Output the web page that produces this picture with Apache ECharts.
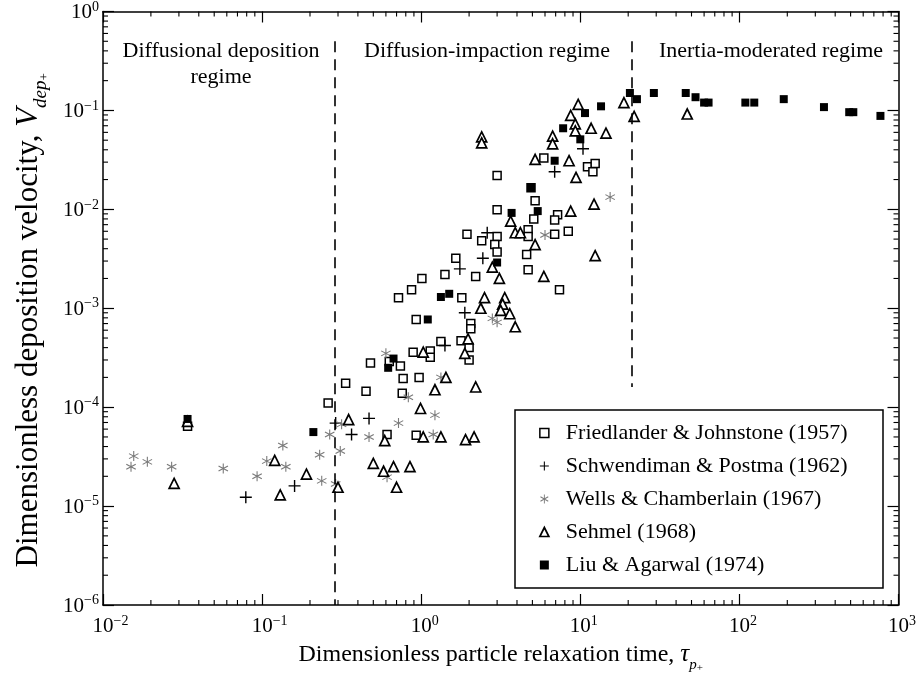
<!DOCTYPE html>
<html><head><meta charset="utf-8">
<script src="https://cdn.jsdelivr.net/npm/echarts@6/dist/echarts.min.js"></script>
<style>html,body{margin:0;padding:0;background:#fff}#chart{width:919px;height:681px}</style>
</head><body><div id="chart"></div>
<script>
// ---- data (x = tau_p+, y = V_dep+) ----
const friedlander = [[0.034,6.4e-5],[0.26,1.1e-4],[0.335,1.75e-4],[0.45,1.45e-4],[0.48,2.8e-4],[0.63,2.9e-4],[0.74,2.6e-4],[0.77,1.95e-4],[0.97,2.0e-4],[0.89,3.6e-4],[1.14,3.7e-4],[1.14,3.2e-4],[1.33,4.6e-4],[1.78,4.7e-4],[2.0,4.0e-4],[2.0,3.0e-4],[2.05,7.0e-4],[2.05,6.2e-4],[0.93,7.7e-4],[0.72,1.28e-3],[0.87,1.54e-3],[1.01,2.0e-3],[1.41,2.2e-3],[1.65,3.2e-3],[2.2,2.1e-3],[1.8,1.28e-3],[1.94,5.6e-3],[2.4,4.8e-3],[3.0,5.3e-3],[2.9,4.4e-3],[3.0,3.7e-3],[3.0,0.022],[4.9,0.0165],[5.2,0.0122],[3.0,9.9e-3],[5.1,8.0e-3],[7.2,8.8e-3],[6.9,7.8e-3],[4.7,6.2e-3],[4.7,5.3e-3],[6.9,5.6e-3],[8.4,6.0e-3],[4.6,3.5e-3],[4.7,2.45e-3],[7.4,1.54e-3],[5.9,0.033],[11.1,0.027],[12.4,0.029],[12,0.024],[0.61,5.3e-5],[0.93,5.2e-5],[0.76,1.38e-4]];
const schwendiman = [[0.079,1.23e-5],[0.16,1.6e-5],[0.29,6.9e-5],[0.47,7.7e-5],[0.365,5.3e-5],[1.41,4.2e-4],[1.88,9.0e-4],[1.75,2.5e-3],[2.44,3.2e-3],[2.6,5.8e-3],[6.9,0.024],[10.4,0.041]];
const wells = [[0.0156,3.2e-5],[0.015,2.5e-5],[0.019,2.8e-5],[0.027,2.5e-5],[0.057,2.4e-5],[0.093,2.0e-5],[0.107,2.85e-5],[0.135,4.1e-5],[0.141,2.5e-5],[0.23,3.3e-5],[0.266,5.3e-5],[0.237,1.8e-5],[0.29,1.67e-5],[0.316,6.7e-5],[0.31,3.6e-5],[0.47,5.0e-5],[0.72,6.9e-5],[0.61,1.96e-5],[1.19,5.3e-5],[1.22,8.3e-5],[0.83,1.26e-4],[1.33,2.0e-4],[0.60,3.5e-4],[2.8,7.9e-4],[3.0,7.2e-4],[6.0,5.5e-3],[15.4,0.0133]];
const sehmel = [[0.028,1.7e-5],[0.034,7.2e-5],[0.12,2.9e-5],[0.13,1.3e-5],[0.19,2.1e-5],[0.30,1.55e-5],[0.35,7.5e-5],[0.59,4.6e-5],[0.50,2.7e-5],[0.58,2.25e-5],[0.67,2.5e-5],[0.85,2.5e-5],[0.70,1.55e-5],[0.99,9.7e-5],[1.03,5.0e-5],[1.33,5.0e-5],[1.9,4.7e-5],[2.15,5.0e-5],[1.22,1.5e-4],[2.2,1.6e-4],[1.43,2.0e-4],[1.03,3.6e-4],[1.97,4.9e-4],[1.88,3.5e-4],[2.37,1.0e-3],[2.5,1.28e-3],[3.35,1.28e-3],[3.25,1.1e-3],[3.16,9.5e-4],[3.6,8.8e-4],[3.9,6.5e-4],[2.8,2.6e-3],[3.1,2.0e-3],[3.65,7.6e-3],[3.9,5.8e-3],[4.2,5.8e-3],[5.2,4.4e-3],[5.9,2.1e-3],[8.7,9.6e-3],[12.2,0.0113],[12.4,3.4e-3],[5.2,0.032],[8.5,0.031],[9.4,0.021],[6.7,0.055],[6.7,0.046],[9.3,0.073],[9.3,0.062],[8.7,0.089],[9.7,0.115],[11.7,0.066],[14.5,0.059],[18.8,0.12],[21.8,0.087],[47,0.092],[2.4,0.054],[2.4,0.047]];
const liu = [[0.034,7.6e-5],[0.21,5.6e-5],[0.67,3.1e-4],[0.62,2.5e-4],[1.1,7.7e-4],[1.33,1.3e-3],[1.5,1.4e-3],[3.7,9.2e-3],[5.4,9.6e-3],[3.0,2.9e-3],[4.9,0.0165],[6.9,0.031],[10,0.051],[7.8,0.066],[10.7,0.094],[13.5,0.11],[20.5,0.15],[22.7,0.13],[29,0.15],[46,0.15],[53,0.136],[60,0.12],[64,0.12],[109,0.12],[124,0.12],[190,0.13],[340,0.108],[490,0.096],[520,0.096],[770,0.088]];

const seriesNames = ['Friedlander & Johnstone (1957)','Schwendiman & Postma (1962)','Wells & Chamberlain (1967)','Sehmel (1968)','Liu & Agarwal (1974)'];
const xRange = [0.01, 1000];
const yRange = [1e-6, 1];
const regimeBoundaries = [0.285, 21];
const regimeLineTop = [0.5, 0.5];
const regimeLineBottom = [1e-6, 1.6e-4];
const regimeLabels = ['Diffusional deposition\nregime','Diffusion-impaction regime','Inertia-moderated regime'];

// ---- styling ----
const FONT = '"Liberation Serif","Times New Roman",serif';
const PLUS = 'path://M5.3,0L6.7,0L6.7,5.3L12,5.3L12,6.7L6.7,6.7L6.7,12L5.3,12L5.3,6.7L0,6.7L0,5.3L5.3,5.3Z';
const AST = 'path://M9,0L11,0L11,20L9,20Z M0.84,14.13L18.16,4.13L19.16,5.87L1.84,15.87Z M0.84,5.87L1.84,4.13L19.16,14.13L18.16,15.87Z';
const styles = [
  {symbol:'rect', size:8, item:{color:'#fff', borderColor:'#000', borderWidth:1.5, opacity:1}},
  {symbol:PLUS, size:12, item:{color:'#000', opacity:1}},
  {symbol:AST, size:10, item:{color:'#7a7a7a', opacity:1}},
  {symbol:'triangle', size:10, item:{color:'#fff', borderColor:'#000', borderWidth:1.7, opacity:1}},
  {symbol:'rect', size:8, item:{color:'#000', opacity:1}}
];
const datasets = [friedlander, schwendiman, wells, sehmel, liu];

function supLabel(e, padded){
  const s = String(e).replace('-', '\u2212');
  return (padded ? (e < 0 ? '{pn|\u00a0}' : '{pp|\u00a0}') : '') + '{b|10}{s|' + s + '}';
}
const richLab = {
  b:{fontFamily:FONT, fontSize:21, color:'#000', verticalAlign:'bottom'},
  s:{fontFamily:FONT, fontSize:14, color:'#000', verticalAlign:'bottom', padding:[0,0,9,0]},
  pn:{fontFamily:FONT, fontSize:14, width:15, verticalAlign:'bottom'},
  pp:{fontFamily:FONT, fontSize:14, width:7, verticalAlign:'bottom'}
};

// minor tick positions (2..9 per decade)
const xMinor = [], yMinor = [];
for (let e = -2; e < 3; e++) for (let k = 2; k <= 9; k++) xMinor.push([k*Math.pow(10,e), yRange[0]]);
for (let e = -6; e < 0; e++) for (let k = 2; k <= 9; k++) yMinor.push([xRange[0], k*Math.pow(10,e)]);

const chart = echarts.init(document.getElementById('chart'), null, {renderer:'canvas'});

const baseAxis = (extra) => Object.assign({
  type:'log', logBase:10,
  axisLine:{show:true, lineStyle:{color:'#000', width:1.5}},
  axisTick:{show:true, inside:true, length:11, lineStyle:{color:'#000', width:1.2}},
  minorTick:{show:false},
  splitLine:{show:false}
}, extra);

const series = datasets.map((d, i) => ({
  type:'scatter', name:seriesNames[i], data:d,
  symbol:styles[i].symbol, symbolSize:styles[i].size,
  itemStyle:styles[i].item,
  emphasis:{disabled:true}, silent:true, z:2+i*0.01
}));
series[0].markLine = {
  silent:true, symbol:['none','none'], label:{show:false}, animation:false,
  lineStyle:{type:[11,7], color:'#000', width:1.6},
  data: regimeBoundaries.map((x, i) => [{coord:[x, regimeLineTop[i]]}, {coord:[x, regimeLineBottom[i]]}])
};
series.push({
  type:'custom', silent:true, data:xMinor, clip:false, z:5,
  renderItem:(p, api) => {
    const x = api.value(0);
    const b = api.coord([x, yRange[0]]), t = api.coord([x, yRange[1]]);
    return {type:'group', children:[
      {type:'line', shape:{x1:b[0], y1:b[1], x2:b[0], y2:b[1]-5}, style:{stroke:'#000', lineWidth:1.1}},
      {type:'line', shape:{x1:t[0], y1:t[1], x2:t[0], y2:t[1]+5}, style:{stroke:'#000', lineWidth:1.1}}
    ]};
  }
});
series.push({
  type:'custom', silent:true, data:yMinor, clip:false, z:5,
  renderItem:(p, api) => {
    const y = api.value(1);
    const l = api.coord([xRange[0], y]), r = api.coord([xRange[1], y]);
    return {type:'group', children:[
      {type:'line', shape:{x1:l[0], y1:l[1], x2:l[0]+5, y2:l[1]}, style:{stroke:'#000', lineWidth:1.1}},
      {type:'line', shape:{x1:r[0], y1:r[1], x2:r[0]-5, y2:r[1]}, style:{stroke:'#000', lineWidth:1.1}}
    ]};
  }
});

const option = {
  animation:false,
  backgroundColor:'#fff',
  grid:{left:103, right:16, top:10, bottom:76, containLabel:false},
  xAxis:[
    baseAxis({min:xRange[0], max:xRange[1], position:'bottom',
      axisLabel:{show:true, margin:9, formatter:(v)=>supLabel(Math.round(Math.log10(v)), true), rich:richLab},
      name:'{t|Dimensionless particle relaxation time, }{v|\u03c4}{p|p}{q|+}',
      nameLocation:'middle', nameGap:30,
      nameTextStyle:{rich:{
        t:{fontFamily:FONT, fontSize:24, color:'#000', verticalAlign:'bottom', padding:[0,0,7,0]},
        v:{fontFamily:FONT, fontSize:25, fontStyle:'italic', color:'#000', verticalAlign:'bottom', padding:[0,0,7,0]},
        p:{fontFamily:FONT, fontSize:15, fontStyle:'italic', color:'#000', verticalAlign:'bottom', padding:[0,0,1,0]},
        q:{fontFamily:FONT, fontSize:11, color:'#000', verticalAlign:'bottom', padding:[0,0,0,0]}
      }}
    }),
    baseAxis({min:xRange[0], max:xRange[1], position:'top', axisLabel:{show:false}})
  ],
  yAxis:[
    baseAxis({min:yRange[0], max:yRange[1], position:'left',
      axisLabel:{show:true, margin:4, formatter:(v)=>supLabel(Math.round(Math.log10(v)), false), rich:richLab},
      name:'{t|Dimensionless deposition velocity, }{v|V}{p|dep}{q|+}',
      nameLocation:'middle', nameGap:52, nameRotate:90,
      nameTextStyle:{rich:{
        t:{fontFamily:FONT, fontSize:31, color:'#000', verticalAlign:'bottom', padding:[0,0,7,0]},
        v:{fontFamily:FONT, fontSize:31, fontStyle:'italic', color:'#000', verticalAlign:'bottom', padding:[0,0,7,0]},
        p:{fontFamily:FONT, fontSize:19, fontStyle:'italic', color:'#000', verticalAlign:'bottom', padding:[0,0,1,0]},
        q:{fontFamily:FONT, fontSize:13, color:'#000', verticalAlign:'bottom', padding:[0,24,0,0]}
      }}
    }),
    baseAxis({min:yRange[0], max:yRange[1], position:'right', axisLabel:{show:false}})
  ],
  legend:{
    show:true, orient:'vertical', left:539, top:422, padding:0,
    itemWidth:9, itemHeight:9, itemGap:11, selectedMode:false, z:6,
    textStyle:{fontFamily:FONT, fontSize:22, lineHeight:22, color:'#000', padding:[0,0,0,12]},
    data: seriesNames.map((n, i) => ({
      name:n,
      icon: styles[i].symbol,
      itemStyle: Object.assign({}, styles[i].item)
    }))
  },
  graphic:[
    {type:'rect', z:3, shape:{x:515, y:410, width:368, height:178}, style:{fill:'#fff', stroke:'#000', lineWidth:1.5}, silent:true},
    {type:'text', z:3, style:{x:221, y:51, text:regimeLabels[0].split('\n')[0], textAlign:'center', textVerticalAlign:'middle', verticalAlign:'middle', font:'22px ' + FONT, fill:'#000'}},
    {type:'text', z:3, style:{x:221, y:77, text:regimeLabels[0].split('\n')[1], textAlign:'center', textVerticalAlign:'middle', verticalAlign:'middle', font:'22px ' + FONT, fill:'#000'}},
    {type:'text', z:3, style:{x:487, y:51, text:regimeLabels[1], textAlign:'center', textVerticalAlign:'middle', verticalAlign:'middle', font:'22px ' + FONT, fill:'#000'}},
    {type:'text', z:3, style:{x:771, y:51, text:regimeLabels[2], textAlign:'center', textVerticalAlign:'middle', verticalAlign:'middle', font:'22px ' + FONT, fill:'#000'}}
  ],
  series: series
};
chart.setOption(option);
</script>
</body></html>
